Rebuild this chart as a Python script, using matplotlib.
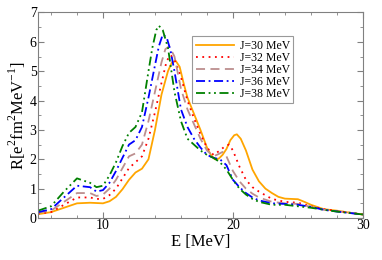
import matplotlib
matplotlib.use("Agg")
import matplotlib.pyplot as plt
from matplotlib.ticker import MultipleLocator

plt.rcParams['font.family'] = ['Liberation Serif', 'DejaVu Serif']
plt.rcParams['mathtext.fontset'] = 'custom'
plt.rcParams['mathtext.rm'] = 'Liberation Serif'

# J=30 MeV
e30 = [5, 6, 7, 8, 9, 10, 10.5, 11, 11.5, 12, 12.5, 13, 13.5, 14, 14.5, 15, 15.3, 15.6, 15.9,
       16.2, 16.5, 17, 17.5, 18, 18.3, 18.6, 18.9, 19.2, 19.5, 19.8, 20.1, 20.3, 20.6, 21,
       21.5, 22, 22.5, 23, 23.5, 24, 24.5, 25, 25.5, 26, 27, 28, 29, 30]
r30 = [0.13, 0.2, 0.35, 0.5, 0.52, 0.5, 0.57, 0.72, 0.98, 1.3, 1.55, 1.68, 2.0, 3.0, 4.2,
       5.0, 5.3, 5.35, 5.15, 4.6, 4.1, 3.55, 3.0, 2.4, 2.15, 2.0, 2.02, 2.15, 2.35, 2.65,
       2.82, 2.85, 2.7, 2.3, 1.65, 1.25, 1.0, 0.85, 0.72, 0.66, 0.65, 0.64, 0.55, 0.45, 0.3,
       0.25, 0.18, 0.12]
# J=32 MeV
e32 = [5, 6, 7, 8, 9, 9.5, 10, 10.5, 11, 11.5, 12, 12.5, 13, 13.5, 14, 14.5, 14.9, 15.2,
       15.5, 16, 16.5, 17, 17.5, 18, 18.5, 19, 19.4, 19.7, 20, 20.5, 21, 21.5, 22, 23, 24,
       25, 26, 27, 28, 30]
r32 = [0.15, 0.2, 0.45, 0.7, 0.7, 0.65, 0.65, 0.78, 1.0, 1.35, 1.7, 1.9, 2.1, 2.7, 3.6, 4.6,
       5.35, 5.55, 5.4, 4.8, 4.0, 3.4, 2.85, 2.4, 2.15, 2.3, 2.45, 2.5, 2.3, 1.75, 1.3, 1.05,
       0.9, 0.65, 0.55, 0.52, 0.4, 0.3, 0.24, 0.12]
# J=34 MeV
e34 = [5, 6, 7, 8, 9, 9.5, 10, 10.5, 11, 11.5, 12, 12.5, 13, 13.5, 14, 14.5, 14.8, 15.1,
       15.5, 16, 16.5, 17, 17.5, 18, 18.5, 18.9, 19.2, 19.5, 20, 20.5, 21, 21.5, 22, 23, 24,
       25, 26, 27, 28, 30]
r34 = [0.18, 0.25, 0.55, 0.85, 0.85, 0.75, 0.8, 1.0, 1.3, 1.7, 2.1, 2.2, 2.5, 3.3, 4.3, 5.3,
       5.75, 5.85, 5.5, 4.4, 3.7, 3.2, 2.7, 2.3, 2.1, 2.18, 2.25, 2.1, 1.6, 1.25, 1.0, 0.83,
       0.7, 0.55, 0.5, 0.48, 0.38, 0.28, 0.23, 0.12]
# J=36 MeV
e36 = [5, 6, 7, 8, 9, 9.5, 10, 10.5, 11, 11.5, 12, 12.5, 13, 13.5, 14, 14.3, 14.6, 14.9,
       15.2, 15.5, 16, 16.5, 17, 17.5, 18, 18.5, 19, 19.5, 20, 20.5, 21, 21.5, 22, 23, 24,
       25, 26, 27, 28, 30]
r36 = [0.2, 0.3, 0.7, 1.1, 1.05, 0.9, 0.95, 1.2, 1.6, 2.05, 2.5, 2.65, 3.1, 4.1, 5.2, 5.85,
       6.25, 6.15, 5.7, 5.0, 3.7, 3.1, 2.7, 2.4, 2.15, 2.05, 2.0, 1.8, 1.3, 1.05, 0.85, 0.7,
       0.6, 0.5, 0.48, 0.45, 0.38, 0.28, 0.22, 0.12]
# J=38 MeV
e38 = [5, 6, 7, 8, 9, 9.5, 10, 10.5, 11, 11.5, 12, 12.5, 13, 13.5, 13.8, 14.1, 14.3, 14.6,
       15, 15.5, 16, 16.5, 17, 17.5, 18, 18.5, 19, 19.5, 20, 20.5, 21, 21.5, 22, 23, 24, 25,
       26, 27, 28, 30]
r38 = [0.25, 0.4, 0.9, 1.35, 1.2, 1.05, 1.1, 1.45, 1.9, 2.45, 2.9, 3.1, 3.6, 5.0, 5.8, 6.4,
       6.55, 6.4, 5.8, 4.3, 3.3, 2.7, 2.5, 2.3, 2.15, 2.05, 1.9, 1.65, 1.3, 1.0, 0.8, 0.65,
       0.55, 0.45, 0.45, 0.4, 0.35, 0.28, 0.22, 0.12]

fig = plt.figure(figsize=(3.82, 2.60), dpi=100)
ax = fig.add_axes([0.0995, 0.1615, 0.8505, 0.7905])

ax.plot(e30, r30, color='orange', lw=1.3, ls='-', label='J=30 MeV')
ax.plot(e32, r32, color='red', lw=1.3, ls=(0, (1, 2.5)), label='J=32 MeV')
ax.plot(e34, r34, color='rosybrown', lw=1.3, ls=(0, (5, 3)), label='J=34 MeV')
ax.plot(e36, r36, color='blue', lw=1.3, ls=(0, (5, 2, 1, 2)), label='J=36 MeV')
ax.plot(e38, r38, color='green', lw=1.3, ls=(0, (5, 2, 1, 2, 1, 2)), label='J=38 MeV')

ax.set_xlim(5, 30)
ax.set_ylim(0, 7)
ax.xaxis.set_major_locator(MultipleLocator(10))
ax.xaxis.set_minor_locator(MultipleLocator(2))
ax.yaxis.set_major_locator(MultipleLocator(1))
ax.yaxis.set_minor_locator(MultipleLocator(0.5))
ax.tick_params(which='both', direction='in', top=True, right=True, color='gray', labelsize=10, pad=1)
ax.tick_params(which='major', length=4)
ax.tick_params(which='minor', length=2)
for s in ax.spines.values():
    s.set_color('gray')

ax.set_xlabel('E [MeV]', fontsize=12, labelpad=1)
ax.set_ylabel(r'R[e$^{2}$fm$^{2}$MeV$^{-1}$]', fontsize=12, labelpad=1)

leg = ax.legend(loc='upper left', bbox_to_anchor=(0.475, 0.885), fontsize=8.5, frameon=True,
                fancybox=False, edgecolor='gray', handlelength=3.2, borderpad=0.3,
                labelspacing=0.0, handletextpad=0.5, borderaxespad=0)
leg.get_frame().set_linewidth(0.8)

fig.savefig('out.png', dpi=100)
